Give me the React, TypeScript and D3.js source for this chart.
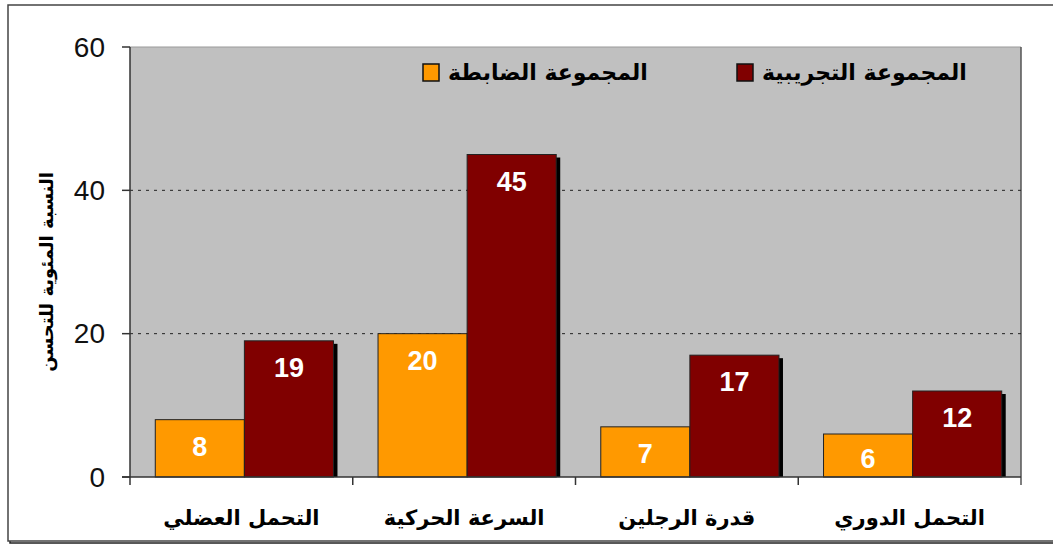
import React from "react";
import * as d3 from "d3";

const categories = ["التحمل العضلي", "السرعة الحركية", "قدرة الرجلين", "التحمل الدوري"];
const controlValues = [8, 20, 7, 6];
const experimentalValues = [19, 45, 17, 12];
const seriesNames = ["المجموعة الضابطة", "المجموعة التجريبية"];
const yTicks = [0, 20, 40, 60];
const yTitle = "النسبة المئوية للتحسن";

const W = 1053;
const H = 546;
const plot = { left: 130, right: 1021, top: 47, bottom: 477 };
const colors = ["#FF9900", "#800000"];

export default function App() {
  const x = d3
    .scaleBand<string>()
    .domain(categories)
    .range([plot.left, plot.right])
    .paddingInner(0)
    .paddingOuter(0);
  const y = d3.scaleLinear().domain([0, 60]).range([plot.bottom, plot.top]);
  const inner = d3
    .scaleBand<number>()
    .domain([0, 1])
    .range([3, x.bandwidth() + 3])
    .paddingOuter(0.25)
    .paddingInner(0);

  const series = [controlValues, experimentalValues];
  const font = "Arial, 'Liberation Sans', sans-serif";
  const arabicFont = "'DejaVu Sans', Arial, sans-serif";

  const labelY = (v: number) => {
    const top = y(v);
    return Math.min(top + 27, plot.bottom - 18);
  };

  return (
    <svg
      width={W}
      height={H}
      style={{ position: "absolute", left: 0, top: 0, background: "#fff" }}
      fontFamily={font}
    >
      {/* outer frame with shadow */}
      <rect x={10} y={7} width={1060} height={536} fill="none" stroke="#222" strokeWidth={1.5} />
      <rect x={8} y={5} width={1060} height={536} fill="#fff" stroke="#444" strokeWidth={1.5} />

      {/* plot area */}
      <rect
        x={plot.left}
        y={plot.top}
        width={plot.right - plot.left}
        height={plot.bottom - plot.top}
        fill="#C0C0C0"
      />
      <line x1={plot.left} x2={plot.right} y1={plot.top} y2={plot.top} stroke="#999" strokeWidth={1} />
      <line x1={plot.right} x2={plot.right} y1={plot.top} y2={plot.bottom + 8} stroke="#555" strokeWidth={1.5} />

      {/* gridlines */}
      {yTicks
        .filter((t) => t > 0 && t < 60)
        .map((t) => (
          <line
            key={"g" + t}
            x1={plot.left}
            x2={plot.right}
            y1={y(t)}
            y2={y(t)}
            stroke="#222"
            strokeWidth={1}
            strokeDasharray="3,5"
          />
        ))}

      {/* bars */}
      {categories.map((c, i) => (
        <g key={c}>
          {series.map((vals, s) => {
            const bx = (x(c) as number) + (inner(s) as number);
            const bw = inner.bandwidth();
            const by = y(vals[i]);
            return (
              <rect
                key={"sh" + s}
                x={bx + 4}
                y={by + 3}
                width={bw}
                height={plot.bottom - by - 3}
                fill="#000"
              />
            );
          })}
          {series.map((vals, s) => {
            const bx = (x(c) as number) + (inner(s) as number);
            const bw = inner.bandwidth();
            const by = y(vals[i]);
            return (
              <rect
                key={"b" + s}
                x={bx}
                y={by}
                width={bw}
                height={plot.bottom - by}
                fill={colors[s]}
                stroke="#222"
                strokeWidth={1}
              />
            );
          })}
          {series.map((vals, s) => {
            const bx = (x(c) as number) + (inner(s) as number) + inner.bandwidth() / 2;
            return (
              <text
                key={"t" + s}
                x={bx}
                y={labelY(vals[i])}
                textAnchor="middle"
                dominantBaseline="central"
                fill="#fff"
                fontWeight="bold"
                fontSize={27}
              >
                {vals[i]}
              </text>
            );
          })}
        </g>
      ))}

      {/* axes */}
      <line x1={plot.left} x2={plot.left} y1={plot.top} y2={plot.bottom} stroke="#333" strokeWidth={1.5} />
      <line x1={plot.left - 8} x2={plot.right} y1={plot.bottom} y2={plot.bottom} stroke="#333" strokeWidth={1.5} />
      {yTicks.map((t) => (
        <g key={"y" + t}>
          <line x1={plot.left - 8} x2={plot.left} y1={y(t)} y2={y(t)} stroke="#333" strokeWidth={1.5} />
          <text
            x={plot.left - 25}
            y={y(t)}
            textAnchor="end"
            dominantBaseline="central"
            fontSize={28}
            fill="#111"
          >
            {t}
          </text>
        </g>
      ))}
      {categories.map((c, i) => (
        <line
          key={"xt" + i}
          x1={x(c) as number}
          x2={x(c) as number}
          y1={plot.bottom}
          y2={plot.bottom + 8}
          stroke="#333"
          strokeWidth={1.5}
        />
      ))}
      {categories.map((c) => (
        <text
          key={"xl" + c}
          x={(x(c) as number) + x.bandwidth() / 2}
          y={518}
          textAnchor="middle"
          dominantBaseline="central"
          fontWeight="bold"
          fontSize={21}
          fontFamily={arabicFont}
          fill="#000"
          direction="rtl"
        >
          {c}
        </text>
      ))}

      {/* y title */}
      <text
        transform={`translate(46,${272}) rotate(-90)`}
        textAnchor="middle"
        dominantBaseline="central"
        fontWeight="bold"
        fontSize={18}
        fontFamily={arabicFont}
        fill="#000"
        direction="rtl"
      >
        {yTitle}
      </text>

      {/* legend */}
      {[0, 1].map((s) => {
        const sx = s === 0 ? 423 : 737;
        return (
          <g key={"lg" + s}>
            <rect x={sx} y={64} width={16} height={17} fill={colors[s]} stroke="#111" strokeWidth={1.5} />
            <text
              x={sx + 25}
              y={72}
              textAnchor="start"
              dominantBaseline="central"
              fontWeight="bold"
              fontSize={22}
              fontFamily={arabicFont}
              fill="#000"
            >
              {seriesNames[s]}
            </text>
          </g>
        );
      })}
    </svg>
  );
}
